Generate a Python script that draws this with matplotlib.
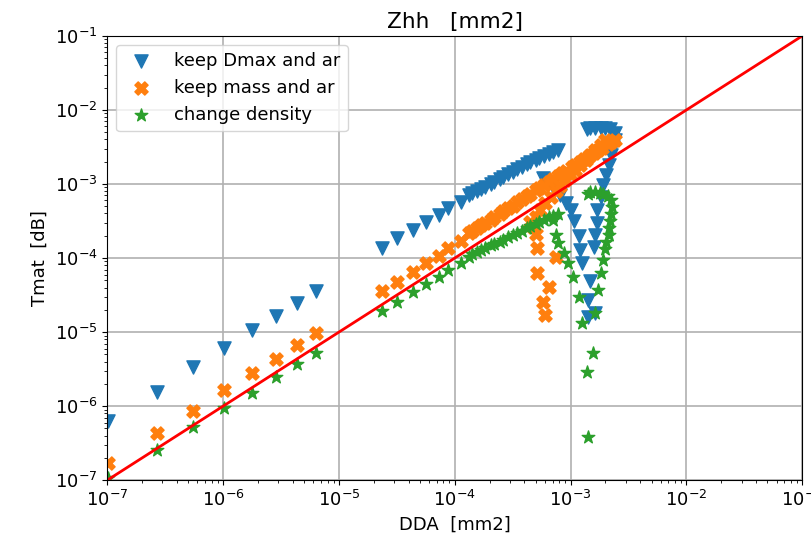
import numpy as np
import matplotlib
matplotlib.use('Agg')
import matplotlib.pyplot as plt

# log10 of DDA / Tmat backscattering values, small sizes (same grid for every case)
small_x = [-6.99, -6.57, -6.26, -5.99, -5.75, -5.54, -5.36, -5.20,
           -4.63, -4.50, -4.36, -4.25, -4.14, -4.06, -3.95, -3.88]
dmax_small = [-6.20, -5.81, -5.47, -5.22, -4.97, -4.78, -4.61, -4.45,
              -3.86, -3.73, -3.62, -3.51, -3.42, -3.32, -3.24, -3.15]
mass_small = [-6.77, -6.36, -6.07, -5.78, -5.55, -5.36, -5.18, -5.01,
              -4.45, -4.32, -4.19, -4.07, -3.97, -3.86, -3.77, -3.66]
dens_small = [-6.97, -6.59, -6.28, -6.03, -5.82, -5.61, -5.43, -5.28,
              -4.72, -4.59, -4.46, -4.35, -4.26, -4.16, -4.07, -3.99]

# larger sizes, close to the first resonance
big_x = [-3.85, -3.81, -3.77, -3.74, -3.69, -3.66, -3.61, -3.58, -3.54, -3.50,
         -3.46, -3.42, -3.38, -3.35, -3.30, -3.27, -3.23, -3.19, -3.15, -3.11]
dmax_big = [-3.12, -3.09, -3.07, -3.04, -3.00, -2.97, -2.93, -2.91, -2.86, -2.84,
            -2.80, -2.77, -2.73, -2.70, -2.68, -2.65, -2.62, -2.59, -2.57, -2.54]
dens_big = [-3.95, -3.92, -3.89, -3.87, -3.83, -3.81, -3.78, -3.75, -3.72, -3.69,
            -3.66, -3.63, -3.60, -3.57, -3.54, -3.51, -3.48, -3.45, -3.43, -3.41]

mass_big_x = big_x + [-3.07, -3.04, -2.99, -2.96, -2.92, -2.88, -2.84, -2.80,
                      -2.76, -2.73, -2.68, -2.65, -2.62]
mass_big = [-3.64, -3.60, -3.56, -3.53, -3.48, -3.45, -3.40, -3.37, -3.32, -3.29,
            -3.24, -3.20, -3.16, -3.13, -3.08, -3.05, -3.01, -2.97, -2.93, -2.89,
            -2.85, -2.82, -2.77, -2.74, -2.70, -2.66, -2.62, -2.58, -2.54, -2.51,
            -2.46, -2.43, -2.40]

# past the resonance (DDA decreasing again)
dmax_res_x = [-3.24, -3.16, -3.09, -3.04, -3.00, -2.97, -2.93, -2.92, -2.90, -2.83,
              -2.85, -2.85, -2.79, -2.80, -2.79, -2.77, -2.77, -2.74, -2.72, -2.69,
              -2.67, -2.65, -2.63, -2.62, -2.62, -2.66, -2.70, -2.74, -2.79, -2.83, -2.86]
dmax_res = [-2.92, -3.01, -3.15, -3.26, -3.35, -3.50, -3.70, -3.89, -4.07, -4.31,
            -4.57, -4.80, -4.74, -3.85, -3.69, -3.53, -3.35, -3.18, -3.01, -2.88,
            -2.74, -2.61, -2.50, -2.41, -2.31, -2.26, -2.24, -2.24, -2.24, -2.24, -2.26]

mass_res_x = [-2.70, -2.74, -2.79, -2.83, -2.87, -2.92, -2.96, -3.00, -3.05, -3.09,
              -3.13, -3.17, -3.22, -3.26, -3.30, -3.35,
              -3.32, -3.30, -3.29, -3.13, -3.29, -3.19, -3.24, -3.22]
mass_res = [-2.41, -2.47, -2.54, -2.61, -2.68, -2.74, -2.81, -2.88, -2.95, -3.03,
            -3.09, -3.18, -3.26, -3.35, -3.45, -3.51,
            -3.58, -3.68, -3.86, -3.99, -4.20, -4.39, -4.59, -4.77]

dens_res_x = [-3.15, -3.13, -3.11, -3.06, -3.02, -2.98, -2.93, -2.90, -2.81, -2.86,
              -2.85, -2.79, -2.76, -2.74, -2.72, -2.70, -2.69, -2.67, -2.67, -2.66,
              -2.65, -2.64, -2.65, -2.68, -2.72, -2.75, -2.79, -2.83, -2.85]
dens_res = [-3.49, -3.69, -3.80, -3.93, -4.07, -4.26, -4.53, -4.88, -5.28, -5.54,
            -6.41, -4.74, -4.43, -4.20, -4.03, -3.88, -3.78, -3.69, -3.59, -3.50,
            -3.41, -3.31, -3.22, -3.16, -3.14, -3.12, -3.11, -3.11, -3.14]

dmax_x = 10.0 ** np.array(small_x + big_x + dmax_res_x)
dmax_y = 10.0 ** np.array(dmax_small + dmax_big + dmax_res)
mass_x = 10.0 ** np.array(small_x + mass_big_x + mass_res_x)
mass_y = 10.0 ** np.array(mass_small + mass_big + mass_res)
dens_x = 10.0 ** np.array(small_x + big_x + dens_res_x)
dens_y = 10.0 ** np.array(dens_small + dens_big + dens_res)

plt.rcParams['font.size'] = 13

fig, ax = plt.subplots(figsize=(8.12, 5.36), dpi=100)
fig.subplots_adjust(left=0.132, right=0.988, top=0.933, bottom=0.104)

ax.scatter(dmax_x, dmax_y, marker='v', s=90, color='tab:blue', label='keep Dmax and ar')
ax.scatter(mass_x, mass_y, marker='X', s=90, color='tab:orange', label='keep mass and ar')
ax.scatter(dens_x, dens_y, marker='*', s=90, color='tab:green', label='change density')

lims = [1e-7, 1e-1]
ax.plot(lims, lims, color='red', lw=2)

ax.set_xscale('log')
ax.set_yscale('log')
ax.set_xlim(lims)
ax.set_ylim(lims)
ax.grid(True, color='#b0b0b0', lw=1.2)
ax.set_axisbelow(True)

ax.set_title('Zhh   [mm2]')
ax.set_xlabel('DDA  [mm2]')
ax.set_ylabel('Tmat  [dB]')
ax.legend(loc='upper left')

fig.savefig('out.png', dpi=100)
